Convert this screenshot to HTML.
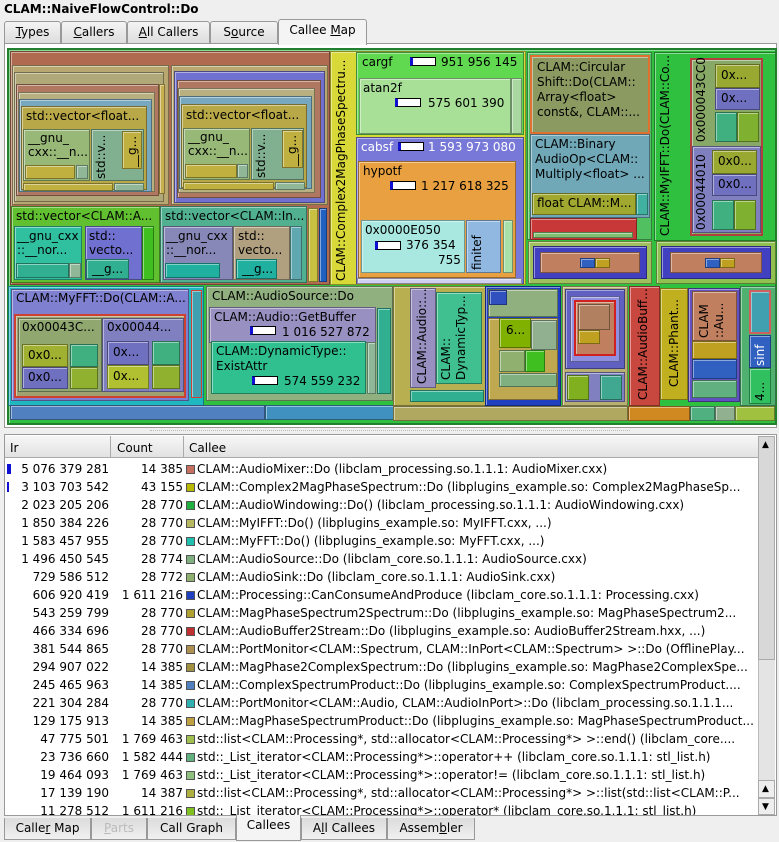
<!DOCTYPE html>
<html><head><meta charset="utf-8"><style>
*{margin:0;padding:0;box-sizing:border-box}
body{width:779px;height:842px;background:#efefef;position:relative;overflow:hidden;font-family:"DejaVu Sans","Liberation Sans",sans-serif;font-size:12px;color:#000}
.a{position:absolute}
.b{position:absolute;border:1px solid rgba(0,0,0,.35);box-shadow:inset 1px 1px 0 rgba(255,255,255,.45)}
.t{position:absolute;white-space:nowrap;font-size:12px;line-height:14px}
.v{position:absolute;writing-mode:vertical-rl;transform:rotate(180deg);white-space:nowrap;font-size:12px;line-height:14px}
.bar{position:absolute;width:26px;height:9px;background:#fff;border:1px solid #000;border-left:3px solid #1010d0}
.tab{position:absolute;top:21px;height:23px;border:1px solid #999;border-bottom:none;background:linear-gradient(#f4f4f4,#dcdcdc);font-size:12px;line-height:21px;text-align:center;border-radius:3px 3px 0 0}
.btab{position:absolute;top:818px;height:22px;border:1px solid #999;border-top:none;background:linear-gradient(#dcdcdc,#f0f0f0);font-size:12px;line-height:21px;text-align:center}
.row{position:absolute;left:5px;width:752px;height:18px;font-size:12px;line-height:18px;white-space:nowrap;overflow:hidden}
.row .ir{position:absolute;left:0;width:104px;text-align:right}
.row .ct{position:absolute;left:0;width:178px;text-align:right}
.row .sw{position:absolute;left:181px;top:5px;width:9px;height:9px;border:1px solid #555}
.row .nm{position:absolute;left:192px}
</style></head><body>
<div class="t" style="left:4px;top:2px;font-weight:bold;font-size:12px">CLAM::NaiveFlowControl::Do</div>
<div class="tab" style="left:4px;width:57px"><u>T</u>ypes</div>
<div class="tab" style="left:61px;width:66px"><u>C</u>allers</div>
<div class="tab" style="left:127px;width:83px"><u>A</u>ll Callers</div>
<div class="tab" style="left:210px;width:68px">S<u>o</u>urce</div>
<div class="tab" style="left:278px;top:19px;height:26px;width:89px;background:#f4f4f4;z-index:2">Callee <u>M</u>ap</div>
<div class="a" style="left:4px;top:43px;width:773px;height:385px;border:1px solid #999;background:#fff"></div>

<!-- treemap -->
<div class="b" style="left:7px;top:48px;width:770px;height:377px;background:#30c040;border:2px solid #208030"></div>
<div class="b" style="left:10px;top:51px;width:320px;height:234px;background:#b06a50"></div>
<div class="b" style="left:12px;top:65px;width:157px;height:140px;background:#b8a870"></div>
<div class="b" style="left:14px;top:72px;width:150px;height:130px;background:#b0a878"></div>
<div class="b" style="left:16px;top:84px;width:143px;height:112px;background:#b07860"></div>
<div class="b" style="left:18px;top:92px;width:137px;height:100px;background:#b8b080"></div>
<div class="b" style="left:19px;top:99px;width:133px;height:93px;background:#78a8c0"></div>
<div class="b" style="left:21px;top:106px;width:126px;height:84px;background:#b8a848"></div>
<div class="t" style="left:26px;top:109px">std::vector&lt;float...</div>
<div class="b" style="left:23px;top:129px;width:67px;height:52px;background:#98b878"></div>
<div class="t" style="left:28px;top:131px">__gnu_<br>cxx::__n...</div>
<div class="b" style="left:25px;top:165px;width:50px;height:14px;background:#c0b040"></div>
<div class="b" style="left:76px;top:165px;width:12px;height:14px;background:#90b898"></div>
<div class="b" style="left:91px;top:129px;width:53px;height:52px;background:#80b090"></div>
<div class="v" style="left:94px;top:131px;height:48px">std::v...</div>
<div class="b" style="left:122px;top:131px;width:20px;height:38px;background:#c0b040"></div>
<div class="v" style="left:125px;top:132px;height:35px">__g...</div>
<div class="b" style="left:23px;top:183px;width:90px;height:8px;background:#c0b040"></div>
<div class="b" style="left:114px;top:183px;width:30px;height:8px;background:#90b898"></div>
<div class="b" style="left:159px;top:84px;width:6px;height:110px;background:#c8b050"></div>
<div class="b" style="left:171px;top:65px;width:157px;height:140px;background:#b8a870"></div>
<div class="b" style="left:174px;top:71px;width:151px;height:132px;background:#7070d0"></div>
<div class="b" style="left:177px;top:80px;width:144px;height:118px;background:#b07860"></div>
<div class="b" style="left:178px;top:88px;width:137px;height:105px;background:#b8b080"></div>
<div class="b" style="left:179px;top:96px;width:133px;height:93px;background:#78a8c0"></div>
<div class="b" style="left:181px;top:104px;width:126px;height:84px;background:#b8a848"></div>
<div class="t" style="left:186px;top:108px">std::vector&lt;float...</div>
<div class="b" style="left:183px;top:128px;width:67px;height:52px;background:#98b878"></div>
<div class="t" style="left:188px;top:130px">__gnu_<br>cxx::__n...</div>
<div class="b" style="left:185px;top:164px;width:52px;height:14px;background:#c0b040"></div>
<div class="b" style="left:237px;top:164px;width:11px;height:14px;background:#90b898"></div>
<div class="b" style="left:251px;top:128px;width:53px;height:52px;background:#80b090"></div>
<div class="v" style="left:254px;top:130px;height:48px">std::v...</div>
<div class="b" style="left:282px;top:130px;width:21px;height:38px;background:#c0b040"></div>
<div class="v" style="left:285px;top:131px;height:35px">__g...</div>
<div class="b" style="left:183px;top:182px;width:91px;height:8px;background:#c0b040"></div>
<div class="b" style="left:275px;top:182px;width:30px;height:8px;background:#90b898"></div>
<div class="b" style="left:11px;top:206px;width:149px;height:77px;background:#60c030"></div>
<div class="t" style="left:16px;top:209px">std::vector&lt;CLAM::A...</div>
<div class="b" style="left:14px;top:226px;width:68px;height:54px;background:#30c0a0"></div>
<div class="t" style="left:17px;top:229px">__gnu_cxx<br>::__nor...</div>
<div class="b" style="left:16px;top:263px;width:53px;height:15px;background:#30b090"></div>
<div class="b" style="left:69px;top:263px;width:12px;height:15px;background:#90b898"></div>
<div class="b" style="left:85px;top:226px;width:57px;height:54px;background:#7070d0"></div>
<div class="t" style="left:89px;top:229px">std::<br>vecto...</div>
<div class="b" style="left:86px;top:259px;width:43px;height:20px;background:#30b090"></div>
<div class="t" style="left:92px;top:262px">__g...</div>
<div class="b" style="left:142px;top:226px;width:12px;height:54px;background:#40c020"></div>
<div class="b" style="left:160px;top:206px;width:147px;height:77px;background:#50b090"></div>
<div class="t" style="left:165px;top:209px">std::vector&lt;CLAM::In...</div>
<div class="b" style="left:163px;top:226px;width:70px;height:54px;background:#8888b8"></div>
<div class="t" style="left:166px;top:229px">__gnu_cxx<br>::__nor...</div>
<div class="b" style="left:165px;top:263px;width:55px;height:15px;background:#20b0a0"></div>
<div class="b" style="left:233px;top:226px;width:57px;height:54px;background:#b0a080"></div>
<div class="t" style="left:238px;top:229px">std::<br>vecto...</div>
<div class="b" style="left:236px;top:259px;width:41px;height:20px;background:#20b0a0"></div>
<div class="t" style="left:242px;top:262px">__g...</div>
<div class="b" style="left:290px;top:226px;width:12px;height:54px;background:#60a8b0"></div>
<div class="b" style="left:308px;top:208px;width:10px;height:74px;background:#c8c040"></div>
<div class="b" style="left:319px;top:208px;width:8px;height:74px;background:#2060c0"></div>

<div class="b" style="left:330px;top:51px;width:196px;height:234px;background:#d8d838"></div>
<div class="v" style="left:334px;top:56px;height:225px">CLAM::Complex2MagPhaseSpectru...</div>
<div class="b" style="left:356px;top:52px;width:168px;height:83px;background:#60d850"></div>
<div class="t" style="left:362px;top:55px">cargf</div>
<div class="bar" style="left:410px;top:57px"></div>
<div class="t" style="left:441px;top:55px">951 956 145</div>
<div class="b" style="left:359px;top:78px;width:152px;height:56px;background:#a8e098"></div>
<div class="t" style="left:363px;top:81px">atan2f</div>
<div class="bar" style="left:395px;top:98px"></div>
<div class="t" style="left:428px;top:96px">575 601 390</div>
<div class="b" style="left:511px;top:78px;width:11px;height:56px;background:#a8d8a0"></div>
<div class="b" style="left:356px;top:137px;width:168px;height:147px;background:#7878d8"></div>
<div class="t" style="left:361px;top:140px;color:#fff">cabsf</div>
<div class="bar" style="left:398px;top:142px"></div>
<div class="t" style="left:428px;top:140px;color:#fff">1 593 973 080</div>
<div class="b" style="left:358px;top:161px;width:158px;height:117px;background:#e8a040"></div>
<div class="t" style="left:363px;top:164px">hypotf</div>
<div class="bar" style="left:390px;top:181px"></div>
<div class="t" style="left:421px;top:179px">1 217 618 325</div>
<div class="b" style="left:361px;top:220px;width:104px;height:53px;background:#a8e8e0"></div>
<div class="t" style="left:365px;top:223px;">0x0000E050</div>
<div class="bar" style="left:375px;top:241px"></div>
<div class="t" style="left:406px;top:238px">376 354</div>
<div class="t" style="left:438px;top:253px">755</div>
<div class="b" style="left:466px;top:220px;width:35px;height:53px;background:#90b8e0"></div>
<div class="v" style="left:470px;top:225px;height:45px">finitef</div>
<div class="b" style="left:503px;top:220px;width:10px;height:53px;background:#a8e0a8"></div>
<div class="b" style="left:357px;top:278px;width:165px;height:6px;background:#d0d0f0"></div>

<div class="b" style="left:527px;top:52px;width:125px;height:188px;background:#50c060"></div>
<div class="b" style="left:530px;top:55px;width:120px;height:79px;background:#8a9a60;border:2px solid #e07030"></div>
<div class="t" style="left:537px;top:60px;line-height:15px">CLAM::Circular<br>Shift::Do(CLAM::<br>Array&lt;float&gt;<br>const&amp;, CLAM::...</div>
<div class="b" style="left:530px;top:134px;width:120px;height:84px;background:#70a8b8"></div>
<div class="t" style="left:535px;top:137px;line-height:15px">CLAM::Binary<br>AudioOp&lt;CLAM::<br>Multiply&lt;float&gt; ...</div>
<div class="b" style="left:532px;top:193px;width:104px;height:22px;background:#a0a830"></div>
<div class="t" style="left:537px;top:196px">float CLAM::M...</div>
<div class="b" style="left:636px;top:193px;width:12px;height:22px;background:#40b0a0"></div>
<div class="b" style="left:530px;top:218px;width:107px;height:22px;background:#c83838"></div>
<div class="b" style="left:533px;top:232px;width:100px;height:6px;background:#80c070"></div>
<div class="b" style="left:528px;top:241px;width:124px;height:43px;background:#a0c060"></div>
<div class="b" style="left:533px;top:246px;width:114px;height:33px;background:#4040c0"></div>
<div class="b" style="left:540px;top:252px;width:100px;height:21px;background:#c08060"></div>
<div class="b" style="left:580px;top:258px;width:15px;height:10px;background:#3060c0"></div>
<div class="b" style="left:595px;top:258px;width:15px;height:10px;background:#c0a020"></div>
<div class="b" style="left:654px;top:52px;width:122px;height:189px;background:#30c040"></div>
<div class="v" style="left:658px;top:56px;height:180px">CLAM::MyIFFT::Do(CLAM::Co...</div>
<div class="b" style="left:690px;top:58px;width:73px;height:178px;background:#88a868;border:2px solid #b04040"></div>
<div class="v" style="left:694px;top:62px;height:80px">0x000043CC0</div>
<div class="b" style="left:715px;top:64px;width:45px;height:24px;background:#98a830"></div><div class="t" style="left:721px;top:68px">0x...</div>
<div class="b" style="left:715px;top:88px;width:45px;height:22px;background:#7070c0"></div><div class="t" style="left:721px;top:91px">0x...</div>
<div class="b" style="left:715px;top:112px;width:22px;height:30px;background:#40b080"></div>
<div class="b" style="left:737px;top:112px;width:22px;height:30px;background:#80b030"></div>
<div class="b" style="left:692px;top:146px;width:69px;height:87px;background:#8080c0"></div>
<div class="v" style="left:694px;top:150px;height:80px">0x00044010</div>
<div class="b" style="left:712px;top:150px;width:45px;height:24px;background:#98a830"></div><div class="t" style="left:718px;top:154px">0x0...</div>
<div class="b" style="left:712px;top:174px;width:45px;height:22px;background:#7070c0"></div><div class="t" style="left:718px;top:177px">0x0...</div>
<div class="b" style="left:712px;top:200px;width:22px;height:30px;background:#40b080"></div>
<div class="b" style="left:734px;top:200px;width:22px;height:30px;background:#80b030"></div>
<div class="b" style="left:656px;top:241px;width:120px;height:43px;background:#90c050"></div>
<div class="b" style="left:661px;top:246px;width:110px;height:33px;background:#4040c0"></div>
<div class="b" style="left:670px;top:252px;width:92px;height:21px;background:#c08060"></div>
<div class="b" style="left:705px;top:258px;width:15px;height:10px;background:#3060c0"></div>
<div class="b" style="left:720px;top:258px;width:15px;height:10px;background:#c0a020"></div>

<div class="b" style="left:8px;top:286px;width:196px;height:120px;background:#20b8c0"></div>
<div class="b" style="left:11px;top:289px;width:178px;height:112px;background:#8080d0"></div>
<div class="t" style="left:16px;top:291px">CLAM::MyFFT::Do(CLAM::A...</div>
<div class="b" style="left:14px;top:314px;width:172px;height:84px;background:#a0a070;border:2px solid #d04030"></div>
<div class="b" style="left:18px;top:318px;width:84px;height:74px;background:#90a870"></div>
<div class="t" style="left:22px;top:320px">0x00043C...</div>
<div class="b" style="left:102px;top:318px;width:82px;height:74px;background:#8080c0"></div>
<div class="t" style="left:107px;top:320px">0x00044...</div>
<div class="b" style="left:22px;top:344px;width:46px;height:23px;background:#a0b030"></div><div class="t" style="left:28px;top:348px">0x0...</div>
<div class="b" style="left:22px;top:367px;width:46px;height:22px;background:#7070c0"></div><div class="t" style="left:28px;top:370px">0x0...</div>
<div class="b" style="left:70px;top:344px;width:28px;height:23px;background:#40b080"></div>
<div class="b" style="left:70px;top:367px;width:28px;height:22px;background:#90b030"></div>
<div class="b" style="left:107px;top:341px;width:42px;height:24px;background:#7070c0"></div><div class="t" style="left:113px;top:345px">0x...</div>
<div class="b" style="left:107px;top:365px;width:42px;height:24px;background:#b0c030"></div><div class="t" style="left:113px;top:369px">0x...</div>
<div class="b" style="left:152px;top:341px;width:28px;height:24px;background:#40b080"></div>
<div class="b" style="left:152px;top:365px;width:28px;height:24px;background:#90b030"></div>
<div class="b" style="left:191px;top:290px;width:11px;height:108px;background:#40a0b0;border:1px solid #d04030"></div>
<div class="b" style="left:10px;top:405px;width:255px;height:15px;background:#5080c0"></div>
<div class="b" style="left:265px;top:405px;width:130px;height:15px;background:#4090c0"></div>
<div class="b" style="left:206px;top:286px;width:187px;height:115px;background:#90b080"></div>
<div class="t" style="left:212px;top:289px">CLAM::AudioSource::Do</div>
<div class="b" style="left:209px;top:307px;width:167px;height:36px;background:#9890c0"></div>
<div class="t" style="left:214px;top:310px">CLAM::Audio::GetBuffer</div>
<div class="bar" style="left:250px;top:326px"></div>
<div class="t" style="left:282px;top:325px">1 016 527 872</div>
<div class="b" style="left:211px;top:341px;width:155px;height:53px;background:#30c090"></div>
<div class="t" style="left:216px;top:344px;line-height:15px">CLAM::DynamicType::<br>ExistAttr</div>
<div class="bar" style="left:252px;top:376px"></div>
<div class="t" style="left:284px;top:374px">574 559 232</div>
<div class="b" style="left:367px;top:342px;width:9px;height:52px;background:#90b898"></div>
<div class="b" style="left:377px;top:308px;width:14px;height:86px;background:#30b090"></div>
<div class="b" style="left:393px;top:286px;width:93px;height:120px;background:#b8b050"></div>
<div class="b" style="left:410px;top:288px;width:26px;height:100px;background:#9890c0"></div>
<div class="v" style="left:415px;top:292px;height:92px">CLAM::Audio::...</div>
<div class="b" style="left:436px;top:292px;width:46px;height:92px;background:#40c090"></div>
<div class="v" style="left:439px;top:296px;height:84px;line-height:15px">CLAM::<br>DynamicTyp...</div>
<div class="b" style="left:410px;top:390px;width:74px;height:12px;background:#30b090"></div>
<div class="b" style="left:485px;top:286px;width:76px;height:120px;background:#2040c0"></div>
<div class="b" style="left:488px;top:289px;width:70px;height:28px;background:#90b080"></div>
<div class="b" style="left:489px;top:290px;width:18px;height:15px;background:#3050c0"></div>
<div class="b" style="left:488px;top:318px;width:70px;height:82px;background:#c0a850"></div>
<div class="b" style="left:499px;top:318px;width:32px;height:30px;background:#80b000"></div>
<div class="t" style="left:506px;top:323px">6...</div>
<div class="b" style="left:531px;top:320px;width:26px;height:30px;background:#90b090"></div>
<div class="b" style="left:499px;top:350px;width:26px;height:22px;background:#90b070"></div>
<div class="b" style="left:525px;top:350px;width:20px;height:22px;background:#40c020"></div>
<div class="b" style="left:499px;top:373px;width:58px;height:14px;background:#80b080"></div>
<div class="b" style="left:562px;top:286px;width:66px;height:120px;background:#b8b070"></div>
<div class="b" style="left:565px;top:289px;width:60px;height:80px;background:#6060c0"></div>
<div class="b" style="left:570px;top:296px;width:50px;height:66px;background:#9090e0"></div>
<div class="b" style="left:574px;top:300px;width:42px;height:56px;background:#c08060;border:2px solid #d02020"></div>
<div class="b" style="left:578px;top:304px;width:32px;height:26px;background:#b08060"></div>
<div class="b" style="left:578px;top:330px;width:22px;height:14px;background:#c0a020"></div>
<div class="b" style="left:565px;top:372px;width:60px;height:30px;background:#8080c0"></div>
<div class="b" style="left:567px;top:375px;width:22px;height:25px;background:#80b020"></div>
<div class="b" style="left:600px;top:375px;width:22px;height:25px;background:#40a890"></div>
<div class="b" style="left:629px;top:286px;width:31px;height:120px;background:#c84840"></div>
<div class="v" style="left:636px;top:290px;height:110px">CLAM::AudioBuff...</div>
<div class="b" style="left:660px;top:288px;width:28px;height:112px;background:#c0b020"></div>
<div class="v" style="left:667px;top:292px;height:95px">CLAM::Phant...</div>
<div class="b" style="left:688px;top:288px;width:52px;height:114px;background:#6050c0"></div>
<div class="b" style="left:692px;top:291px;width:45px;height:50px;background:#c08060"></div>
<div class="v" style="left:697px;top:296px;height:42px;line-height:15px">CLAM<br>::Au...</div>
<div class="b" style="left:692px;top:341px;width:45px;height:18px;background:#c0a020"></div>
<div class="b" style="left:692px;top:359px;width:45px;height:20px;background:#3060c0"></div>
<div class="b" style="left:692px;top:380px;width:45px;height:18px;background:#60b080"></div>
<div class="b" style="left:740px;top:286px;width:36px;height:120px;background:#50b070"></div>
<div class="b" style="left:749px;top:290px;width:22px;height:44px;background:#40a0b0;border:2px solid #d06060"></div>
<div class="b" style="left:749px;top:335px;width:22px;height:33px;background:#3060c0"></div>
<div class="v" style="left:753px;top:340px;height:26px;color:#fff">sinf</div>
<div class="b" style="left:749px;top:368px;width:22px;height:36px;background:#30c060"></div>
<div class="v" style="left:753px;top:375px;height:26px">4...</div>
<div class="b" style="left:393px;top:406px;width:235px;height:15px;background:#b0a860"></div>
<div class="b" style="left:628px;top:406px;width:62px;height:15px;background:#d08820"></div>
<div class="b" style="left:690px;top:406px;width:25px;height:15px;background:#50b080"></div>
<div class="b" style="left:715px;top:406px;width:20px;height:15px;background:#90b090"></div>
<div class="b" style="left:735px;top:406px;width:40px;height:15px;background:#a0c040"></div>

<div class="a" style="left:150px;top:430px;width:480px;height:0;border-top:1px dotted #bbb"></div>

<div class="a" style="left:4px;top:434px;width:773px;height:382px;border:1px solid #999;background:#fff"></div>
<div class="a" style="left:5px;top:436px;width:753px;height:22px;background:linear-gradient(#f6f6f6,#e2e2e2);border-bottom:1px solid #aaa"></div>
<div class="a" style="left:110px;top:436px;width:1px;height:22px;background:#aaa"></div>
<div class="a" style="left:183px;top:436px;width:1px;height:22px;background:#aaa"></div>
<div class="t" style="left:10px;top:441px">Ir</div>
<div class="t" style="left:117px;top:441px">Count</div>
<div class="t" style="left:189px;top:441px">Callee</div>
<div class="a" style="left:758px;top:436px;width:17px;height:379px;background:#e4e4e4;border-left:1px solid #bbb"></div>
<div class="a" style="left:758px;top:436px;width:17px;height:224px;background:#d8d8d8;border:1px solid #aaa"></div>
<div class="t" style="left:762px;top:438px;font-size:9px">▲</div>
<div class="a" style="left:758px;top:780px;width:17px;height:18px;border:1px solid #aaa;background:#eee"></div>
<div class="t" style="left:762px;top:782px;font-size:9px">▲</div>
<div class="a" style="left:758px;top:798px;width:17px;height:17px;border:1px solid #aaa;background:#eee"></div>
<div class="t" style="left:762px;top:800px;font-size:9px">▼</div>
<div class="a" style="left:7px;top:464px;width:4px;height:10px;background:#1010d0"></div>
<div class="a" style="left:7px;top:482px;width:2px;height:10px;background:#1010d0"></div>

<div class="a" style="left:0;top:460px;width:758px;height:355px;overflow:hidden">
<div class="row" style="top:0"><span class="ir">5 076 379 281</span><span class="ct">14 385</span><span class="sw" style="background:#c87060"></span><span class="nm">CLAM::AudioMixer::Do (libclam_processing.so.1.1.1: AudioMixer.cxx)</span></div>
<div class="row" style="top:18px"><span class="ir">3 103 703 542</span><span class="ct">43 155</span><span class="sw" style="background:#b8b800"></span><span class="nm">CLAM::Complex2MagPhaseSpectrum::Do (libplugins_example.so: Complex2MagPhaseSp...</span></div>
<div class="row" style="top:36px"><span class="ir">2 023 205 206</span><span class="ct">28 770</span><span class="sw" style="background:#20b040"></span><span class="nm">CLAM::AudioWindowing::Do() (libclam_processing.so.1.1.1: AudioWindowing.cxx)</span></div>
<div class="row" style="top:54px"><span class="ir">1 850 384 226</span><span class="ct">28 770</span><span class="sw" style="background:#b8b860"></span><span class="nm">CLAM::MyIFFT::Do() (libplugins_example.so: MyIFFT.cxx, ...)</span></div>
<div class="row" style="top:72px"><span class="ir">1 583 457 955</span><span class="ct">28 770</span><span class="sw" style="background:#20c0b0"></span><span class="nm">CLAM::MyFFT::Do() (libplugins_example.so: MyFFT.cxx, ...)</span></div>
<div class="row" style="top:90px"><span class="ir">1 496 450 545</span><span class="ct">28 774</span><span class="sw" style="background:#80b080"></span><span class="nm">CLAM::AudioSource::Do (libclam_core.so.1.1.1: AudioSource.cxx)</span></div>
<div class="row" style="top:108px"><span class="ir">729 586 512</span><span class="ct">28 772</span><span class="sw" style="background:#90b070"></span><span class="nm">CLAM::AudioSink::Do (libclam_core.so.1.1.1: AudioSink.cxx)</span></div>
<div class="row" style="top:126px"><span class="ir">606 920 419</span><span class="ct">1 611 216</span><span class="sw" style="background:#2040c0"></span><span class="nm">CLAM::Processing::CanConsumeAndProduce (libclam_core.so.1.1.1: Processing.cxx)</span></div>
<div class="row" style="top:144px"><span class="ir">543 259 799</span><span class="ct">28 770</span><span class="sw" style="background:#b0a030"></span><span class="nm">CLAM::MagPhaseSpectrum2Spectrum::Do (libplugins_example.so: MagPhaseSpectrum2...</span></div>
<div class="row" style="top:162px"><span class="ir">466 334 696</span><span class="ct">28 770</span><span class="sw" style="background:#c03030"></span><span class="nm">CLAM::AudioBuffer2Stream::Do (libplugins_example.so: AudioBuffer2Stream.hxx, ...)</span></div>
<div class="row" style="top:180px"><span class="ir">381 544 865</span><span class="ct">28 770</span><span class="sw" style="background:#b09050"></span><span class="nm">CLAM::PortMonitor&lt;CLAM::Spectrum, CLAM::InPort&lt;CLAM::Spectrum&gt; &gt;::Do (OfflinePlay...</span></div>
<div class="row" style="top:198px"><span class="ir">294 907 022</span><span class="ct">14 385</span><span class="sw" style="background:#a09040"></span><span class="nm">CLAM::MagPhase2ComplexSpectrum::Do (libplugins_example.so: MagPhase2ComplexSpe...</span></div>
<div class="row" style="top:216px"><span class="ir">245 465 963</span><span class="ct">14 385</span><span class="sw" style="background:#5080c0"></span><span class="nm">CLAM::ComplexSpectrumProduct::Do (libplugins_example.so: ComplexSpectrumProduct....</span></div>
<div class="row" style="top:234px"><span class="ir">221 304 284</span><span class="ct">28 770</span><span class="sw" style="background:#30b0b0"></span><span class="nm">CLAM::PortMonitor&lt;CLAM::Audio, CLAM::AudioInPort&gt;::Do (libclam_processing.so.1.1.1...</span></div>
<div class="row" style="top:252px"><span class="ir">129 175 913</span><span class="ct">14 385</span><span class="sw" style="background:#c0a040"></span><span class="nm">CLAM::MagPhaseSpectrumProduct::Do (libplugins_example.so: MagPhaseSpectrumProduct...</span></div>
<div class="row" style="top:270px"><span class="ir">47 775 501</span><span class="ct">1 769 463</span><span class="sw" style="background:#a0c050"></span><span class="nm">std::list&lt;CLAM::Processing*, std::allocator&lt;CLAM::Processing*&gt; &gt;::end() (libclam_core....</span></div>
<div class="row" style="top:288px"><span class="ir">23 736 660</span><span class="ct">1 582 444</span><span class="sw" style="background:#60b080"></span><span class="nm">std::_List_iterator&lt;CLAM::Processing*&gt;::operator++ (libclam_core.so.1.1.1: stl_list.h)</span></div>
<div class="row" style="top:306px"><span class="ir">19 464 093</span><span class="ct">1 769 463</span><span class="sw" style="background:#90c080"></span><span class="nm">std::_List_iterator&lt;CLAM::Processing*&gt;::operator!= (libclam_core.so.1.1.1: stl_list.h)</span></div>
<div class="row" style="top:324px"><span class="ir">17 139 190</span><span class="ct">14 387</span><span class="sw" style="background:#b0b040"></span><span class="nm">std::list&lt;CLAM::Processing*, std::allocator&lt;CLAM::Processing*&gt; &gt;::list(std::list&lt;CLAM::P...</span></div>
<div class="row" style="top:342px"><span class="ir">11 278 512</span><span class="ct">1 611 216</span><span class="sw" style="background:#80c020"></span><span class="nm">std::_List_iterator&lt;CLAM::Processing*&gt;::operator* (libclam_core.so.1.1.1: stl_list.h)</span></div>
</div>

<div class="btab" style="left:4px;width:87px">Calle<u>r</u> Map</div>
<div class="btab" style="left:91px;width:56px;color:#bbb"><u>P</u>arts</div>
<div class="btab" style="left:147px;width:89px">Call Graph</div>
<div class="btab" style="left:236px;top:815px;height:26px;width:65px;background:#f4f4f4;z-index:2">Callees</div>
<div class="btab" style="left:301px;width:86px">A<u>l</u>l Callees</div>
<div class="btab" style="left:387px;width:88px">Assem<u>b</u>ler</div>
</body></html>
